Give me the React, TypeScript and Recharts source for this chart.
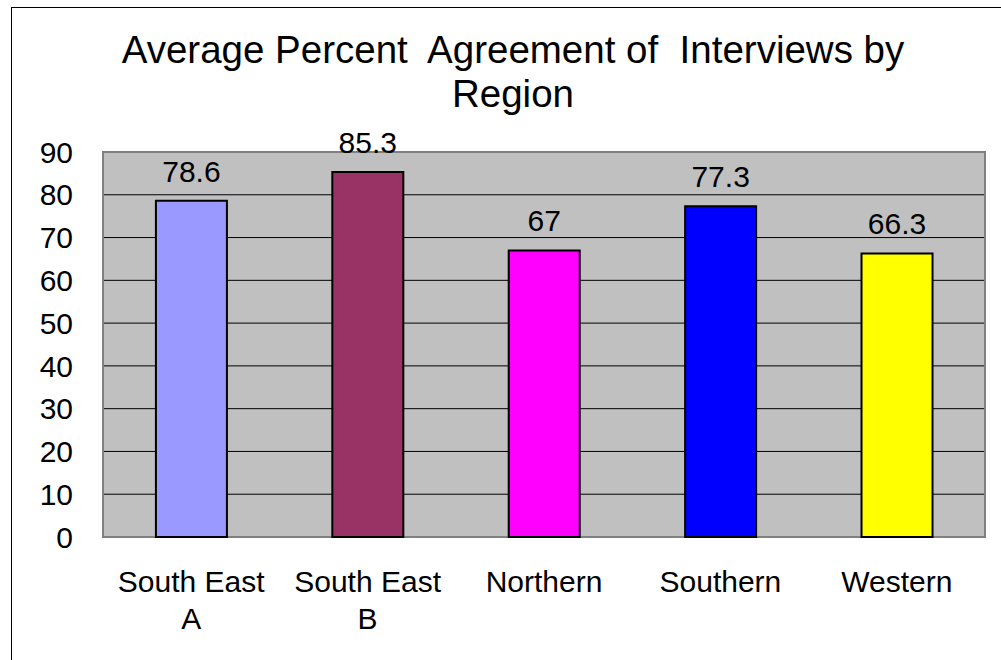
import React from 'react';
import { BarChart, Bar, XAxis, YAxis, CartesianGrid, Cell, LabelList, ReferenceArea } from 'recharts';

const FONT = '"Liberation Sans", Arial, sans-serif';

const regions = ['South East\nA', 'South East\nB', 'Northern', 'Southern', 'Western'];
const agreement = [78.6, 85.3, 67, 77.3, 66.3];
const barColors = ['#9999FF', '#993366', '#FF00FF', '#0000FF', '#FFFF00'];
const yTicks = [0, 10, 20, 30, 40, 50, 60, 70, 80, 90];

const data = regions.map((name, i) => ({ name, value: agreement[i] }));

const RegionTick = (props: any) => {
  const { x, y, payload } = props;
  const lines = String(payload.value).split('\n');
  return (
    <text x={x} y={y} textAnchor="middle" fill="#000" fontSize={30} fontFamily={FONT}>
      {lines.map((line, i) => (
        <tspan key={i} x={x} dy={i === 0 ? 55 : 37}>
          {line}
        </tspan>
      ))}
    </text>
  );
};

const App: React.FC = () => {
  return (
    <div style={{ position: 'fixed', left: 0, top: 0, width: 1001, height: 660, overflow: 'hidden', background: '#fff' }}>
      <div
        style={{
          position: 'absolute',
          left: 11,
          top: 7,
          width: 990,
          height: 653,
          borderTop: '1px solid #000',
          borderLeft: '1px solid #000',
        }}
      />
      <div
        style={{
          position: 'absolute',
          left: 0,
          top: 28,
          width: 1026,
          textAlign: 'center',
          fontFamily: FONT,
          fontSize: 38.5,
          lineHeight: '44px',
          color: '#000',
          whiteSpace: 'pre',
        }}
      >
        {'Average Percent  Agreement of  Interviews by\nRegion'}
      </div>
      <div style={{ position: 'absolute', left: 0, top: 0 }}>
        <BarChart
          width={1001}
          height={660}
          data={data}
          margin={{ top: 152, right: 16, left: 0, bottom: 0 }}
          barCategoryGap="30%"
        >
          <CartesianGrid vertical={false} stroke="#000" fill="#C0C0C0" fillOpacity={1} />
          <XAxis
            dataKey="name"
            height={123}
            interval={0}
            tickLine={false}
            axisLine={false}
            tickSize={0}
            tickMargin={0}
            tick={<RegionTick />}
          />
          <YAxis
            width={103}
            domain={[0, 90]}
            ticks={yTicks}
            interval={0}
            tickLine={false}
            axisLine={false}
            tickSize={0}
            tickMargin={30}
            tick={{ fill: '#000', fontSize: 30, fontFamily: FONT }}
          />
          <ReferenceArea y1={0} y2={90} fill="none" stroke="#808080" strokeWidth={2} ifOverflow="visible" />
          <Bar dataKey="value" stroke="#000" strokeWidth={2} isAnimationActive={false}>
            {data.map((entry, index) => (
              <Cell key={`cell-${index}`} fill={barColors[index]} />
            ))}
            <LabelList dataKey="value" position="top" offset={19} fill="#000" fontSize={30} fontFamily={FONT} />
          </Bar>
        </BarChart>
      </div>
    </div>
  );
};

export default App;
